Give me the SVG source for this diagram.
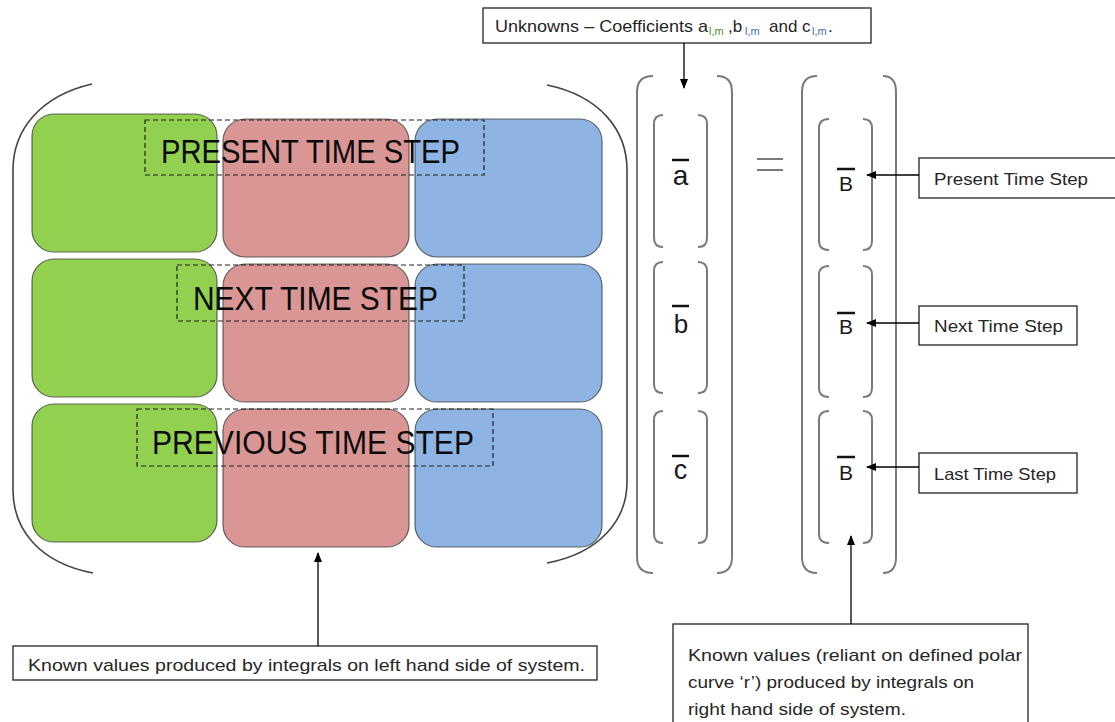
<svg xmlns="http://www.w3.org/2000/svg" width="1115" height="722" viewBox="0 0 1115 722">
<style>
.cell{stroke:#3a3a3a;stroke-width:1.2;stroke-opacity:0.75}
.g{fill:#92d050}.r{fill:#d99694}.b{fill:#8eb4e3}
.dash{fill:none;stroke:#222;stroke-width:1.2;stroke-dasharray:5 3}
.big{font-family:"Liberation Sans",Arial,sans-serif;font-size:34px;fill:#0a0a0a}
.lbl{font-family:"Liberation Sans",Arial,sans-serif;font-size:17px;fill:#262626}
.box{fill:#fff;stroke:#222;stroke-width:1.3}
.brk{fill:none;stroke:#444;stroke-width:1.6}
.vbr{fill:none;stroke:#7a7a7a;stroke-width:2}
.sym{font-family:"Liberation Sans",Arial,sans-serif;fill:#1a1a1a;text-anchor:middle}
.bar{stroke:#111;stroke-width:2.5}
.conn{stroke:#000;stroke-width:1.3;fill:none;marker-end:url(#ah)}
.sub{font-size:11px}
</style>
<defs>
<marker id="ah" markerWidth="10" markerHeight="8" refX="9" refY="4" orient="auto" markerUnits="userSpaceOnUse">
<path d="M0,0 L10,4 L0,8 Z" fill="#000"/>
</marker>
</defs>
<rect width="1115" height="722" fill="#fff"/>

<g id="matrix-bracket">
<path class="brk" d="M92,84 C40,96 13,130 13,170 L13,490 C13,530 40,563 93,573"/>
<path class="brk" d="M547,85 C600,96 627,130 627,170 L627,482 C627,520 600,553 547,563"/>
</g>

<g id="matrix-cells">
<rect class="cell g" x="32" y="114" width="185" height="138" rx="22"/>
<rect class="cell r" x="223" y="119" width="186" height="138" rx="22"/>
<rect class="cell b" x="415" y="119" width="187" height="138" rx="22"/>
<rect class="cell g" x="32" y="259" width="185" height="138" rx="22"/>
<rect class="cell r" x="223" y="264" width="186" height="138" rx="22"/>
<rect class="cell b" x="415" y="264" width="187" height="138" rx="22"/>
<rect class="cell g" x="32" y="404" width="185" height="138" rx="22"/>
<rect class="cell r" x="223" y="409" width="186" height="138" rx="22"/>
<rect class="cell b" x="415" y="409" width="187" height="138" rx="22"/>
</g>

<g id="present-time-step">
<rect class="dash" x="145" y="120" width="339" height="55"/>
<text class="big" x="161" y="163" textLength="299" lengthAdjust="spacingAndGlyphs">PRESENT TIME STEP</text>
</g>
<g id="next-time-step">
<rect class="dash" x="177" y="265" width="287" height="56"/>
<text class="big" x="193" y="310" textLength="245" lengthAdjust="spacingAndGlyphs">NEXT TIME STEP</text>
</g>
<g id="previous-time-step">
<rect class="dash" x="137" y="409" width="356" height="57"/>
<text class="big" x="152" y="454" textLength="322" lengthAdjust="spacingAndGlyphs">PREVIOUS TIME STEP</text>
</g>

<g id="unknowns-vector">
<path class="vbr" d="M653,76 Q637,76 637,92 L637,557 Q637,573 653,573"/>
<path class="vbr" d="M717,76 Q732,76 732,92 L732,557 Q732,573 717,573"/>
<path class="vbr" d="M663,115 Q654,115 654,124 L654,238 Q654,247 663,247"/>
<path class="vbr" d="M698,115 Q707,115 707,124 L707,238 Q707,247 698,247"/>
<path class="vbr" d="M663,262 Q654,262 654,271 L654,384 Q654,393 663,393"/>
<path class="vbr" d="M698,262 Q707,262 707,271 L707,384 Q707,393 698,393"/>
<path class="vbr" d="M663,411 Q654,411 654,420 L654,534 Q654,543 663,543"/>
<path class="vbr" d="M698,411 Q707,411 707,420 L707,534 Q707,543 698,543"/>
<line class="bar" x1="672" y1="160" x2="689" y2="160"/>
<text class="sym" x="680.500" y="185" font-size="28">a</text>
<line class="bar" x1="672" y1="306" x2="689" y2="306"/>
<text class="sym" x="681" y="333" font-size="26">b</text>
<line class="bar" x1="672" y1="456" x2="689" y2="456"/>
<text class="sym" x="680.500" y="479" font-size="27">c</text>
</g>

<g id="equals">
<line x1="757" y1="159" x2="783" y2="159" stroke="#7a7a7a" stroke-width="2"/>
<line x1="757" y1="170" x2="783" y2="170" stroke="#7a7a7a" stroke-width="2"/>
</g>

<g id="known-vector">
<path class="vbr" d="M817,76 Q802,76 802,92 L802,557 Q802,573 817,573"/>
<path class="vbr" d="M883,76 Q896,76 896,92 L896,557 Q896,573 883,573"/>
<path class="vbr" d="M829,119 Q819,119 819,128 L819,241 Q819,250 829,250"/>
<path class="vbr" d="M863,119 Q872,119 872,128 L872,241 Q872,250 863,250"/>
<path class="vbr" d="M829,266 Q819,266 819,275 L819,388 Q819,397 829,397"/>
<path class="vbr" d="M863,266 Q872,266 872,275 L872,388 Q872,397 863,397"/>
<path class="vbr" d="M829,411 Q819,411 819,420 L819,534 Q819,543 829,543"/>
<path class="vbr" d="M863,411 Q872,411 872,420 L872,534 Q872,543 863,543"/>
<line class="bar" x1="837" y1="169" x2="855" y2="169"/>
<text class="sym" x="846" y="191" font-size="21">B</text>
<line class="bar" x1="837" y1="313" x2="855" y2="313"/>
<text class="sym" x="846" y="334" font-size="21">B</text>
<line class="bar" x1="837" y1="457" x2="855" y2="457"/>
<text class="sym" x="846" y="480" font-size="21">B</text>
</g>

<g id="unknowns-label">
<rect class="box" x="483" y="8" width="388" height="35"/>
<text class="lbl" y="32"><tspan x="495" textLength="213" lengthAdjust="spacingAndGlyphs">Unknowns – Coefficients a</tspan><tspan class="sub" x="709" y="35" fill="#4d8f2a">l,m</tspan><tspan x="728" y="32">,b</tspan><tspan class="sub" x="745" y="35" fill="#3d6fb0">l,m</tspan><tspan x="769" y="32">and c</tspan><tspan class="sub" x="812" y="35" fill="#3d6fb0">l,m</tspan><tspan x="828" y="32">.</tspan></text>
</g>

<g id="present-label">
<rect class="box" x="919" y="158" width="200" height="40"/>
<text class="lbl" x="934" y="185" textLength="154" lengthAdjust="spacingAndGlyphs">Present Time Step</text>
</g>
<g id="next-label">
<rect class="box" x="919" y="306" width="158" height="39"/>
<text class="lbl" x="934" y="332" textLength="129" lengthAdjust="spacingAndGlyphs">Next Time Step</text>
</g>
<g id="last-label">
<rect class="box" x="919" y="453" width="158" height="40"/>
<text class="lbl" x="934" y="480" textLength="122" lengthAdjust="spacingAndGlyphs">Last Time Step</text>
</g>

<g id="lhs-label">
<rect class="box" x="13" y="646" width="584" height="34"/>
<text class="lbl" x="28" y="671" textLength="557" lengthAdjust="spacingAndGlyphs">Known values produced by integrals on left hand side of system.</text>
</g>

<g id="rhs-label">
<rect class="box" x="673" y="624" width="355" height="120"/>
<text class="lbl" x="688" y="661" textLength="334" lengthAdjust="spacingAndGlyphs">Known values (reliant on defined polar</text>
<text class="lbl" x="688" y="688" textLength="286" lengthAdjust="spacingAndGlyphs">curve ‘r’) produced by integrals on</text>
<text class="lbl" x="688" y="715" textLength="218" lengthAdjust="spacingAndGlyphs">right hand side of system.</text>
</g>

<g id="connectors">
<line class="conn" x1="684" y1="43" x2="684" y2="88"/>
<line class="conn" x1="919" y1="175" x2="867" y2="175"/>
<line class="conn" x1="919" y1="323" x2="867" y2="323"/>
<line class="conn" x1="919" y1="467" x2="867" y2="467"/>
<line class="conn" x1="318" y1="646" x2="318" y2="553"/>
<line class="conn" x1="851" y1="624" x2="851" y2="536"/>
</g>
</svg>
